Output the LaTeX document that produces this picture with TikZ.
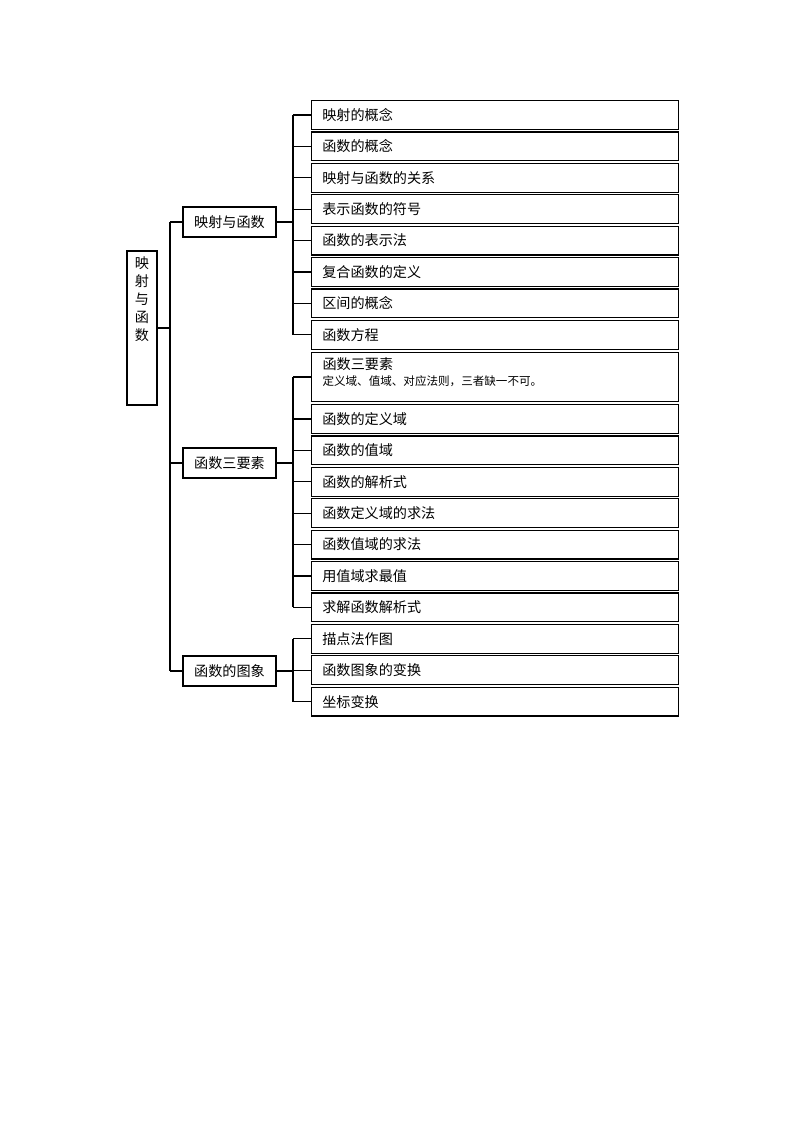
\documentclass[tikz,border=0pt]{standalone}
\usepackage{fontspec}
\setmainfont{Noto Sans CJK SC}
\begin{document}
\begin{tikzpicture}[x=0.74375pt,y=-0.74375pt,
  line width=0.8pt,
  txt/.style={font=\fontsize{10.5pt}{13pt}\selectfont},
  small/.style={font=\fontsize{8.6pt}{11pt}\selectfont},
  leaf/.style={draw,txt,anchor=west,minimum width=273pt,minimum height=21.4pt,
    text width=257pt,inner xsep=8pt,inner ysep=0pt,align=left},
  midbox/.style={draw,txt,minimum width=69.2pt,minimum height=22.3pt,inner sep=0pt},
  conn/.style={line width=0.8pt}]
\useasboundingbox (0,0) rectangle (800,1132);
% root
\node[draw,minimum width=22.3pt,minimum height=114.5pt,inner sep=0pt] (root) at (142,328) {};
\node[txt,anchor=north,inner sep=0pt,align=center,font=\fontsize{10.5pt}{13.4pt}\selectfont] (roottxt) at (142,256) {映\\射\\与\\函\\数};
% level 2
\node[midbox] (m1) at (229.5,222) {映射与函数};
\node[midbox] (m2) at (229.5,463) {函数三要素};
\node[midbox] (m3) at (229.5,671) {函数的图象};
% leaves group 1
\node[leaf] (a1) at (311,115.0) {映射的概念};
\node[leaf] (a2) at (311,146.4) {函数的概念};
\node[leaf] (a3) at (311,177.8) {映射与函数的关系};
\node[leaf] (a4) at (311,209.2) {表示函数的符号};
\node[leaf] (a5) at (311,240.6) {函数的表示法};
\node[leaf] (a6) at (311,272.0) {复合函数的定义};
\node[leaf] (a7) at (311,303.4) {区间的概念};
\node[leaf] (a8) at (311,334.8) {函数方程};
% group 2
\node[draw,anchor=west,minimum width=273pt,minimum height=36.4pt,inner sep=0pt] (b1) at (311,377) {};
\node[txt,anchor=north west,inner sep=0pt] (b1t) at (322,357) {函数三要素};
\node[small,anchor=north west,inner sep=0pt] (b1s) at (322,375) {定义域、值域、对应法则，三者缺一不可。};
\node[leaf] (b2) at (311,419.0) {函数的定义域};
\node[leaf] (b3) at (311,450.4) {函数的值域};
\node[leaf] (b4) at (311,481.8) {函数的解析式};
\node[leaf] (b5) at (311,513.2) {函数定义域的求法};
\node[leaf] (b6) at (311,544.6) {函数值域的求法};
\node[leaf] (b7) at (311,576.0) {用值域求最值};
\node[leaf] (b8) at (311,607.4) {求解函数解析式};
% group 3
\node[leaf] (c1) at (311,638.8) {描点法作图};
\node[leaf] (c2) at (311,670.2) {函数图象的变换};
\node[leaf] (c3) at (311,701.6) {坐标变换};
% junctions
\coordinate (t) at (170,328);
\coordinate (j1) at (293,222);
\coordinate (j2) at (293,463);
\coordinate (j3) at (293,671);
% trunk
\draw[conn] (root.east) -- (t);
\draw[conn] (m1.west -| t) -- (m3.west -| t);
\foreach \m in {m1,m2,m3} \draw[conn] (\m.west -| t) -- (\m.west);
% group brackets
\draw[conn] (m1.east) -- (j1);
\draw[conn] (a1.west -| j1) -- (a8.west -| j1);
\foreach \l in {a1,a2,a3,a4,a5,a6,a7,a8} \draw[conn] (\l.west -| j1) -- (\l.west);
\draw[conn] (m2.east) -- (j2);
\draw[conn] (b1.west -| j2) -- (b8.west -| j2);
\foreach \l in {b1,b2,b3,b4,b5,b6,b7,b8} \draw[conn] (\l.west -| j2) -- (\l.west);
\draw[conn] (m3.east) -- (j3);
\draw[conn] (c1.west -| j3) -- (c3.west -| j3);
\foreach \l in {c1,c2,c3} \draw[conn] (\l.west -| j3) -- (\l.west);
\end{tikzpicture}
\end{document}
